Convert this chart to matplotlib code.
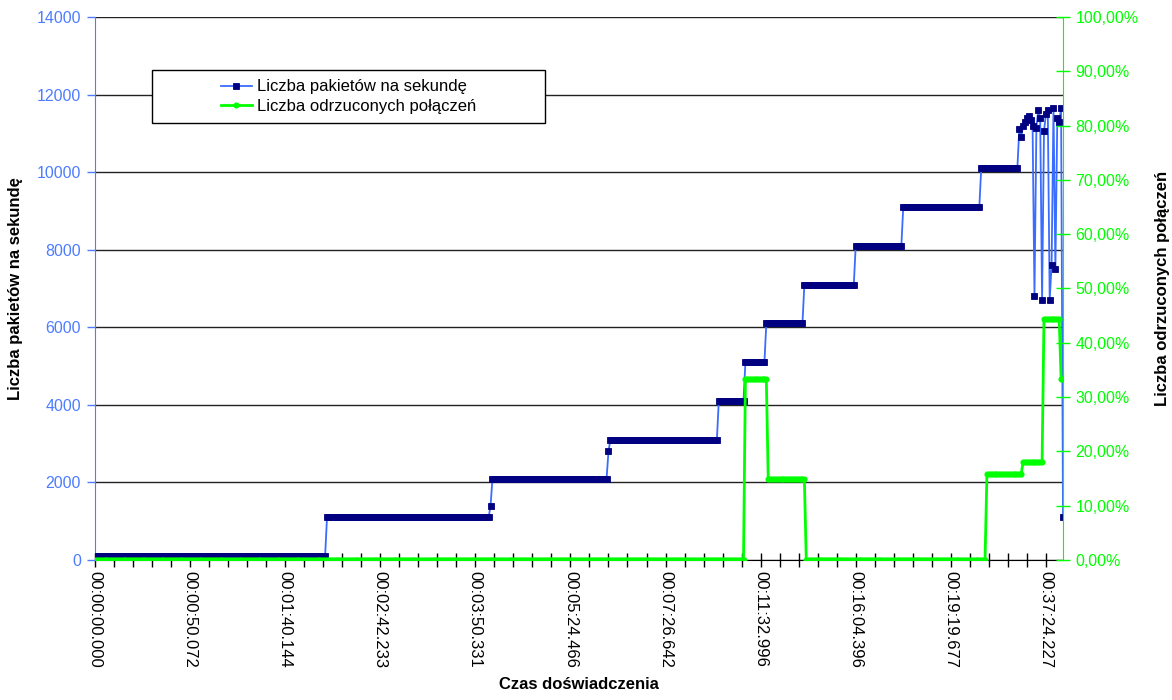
import matplotlib
matplotlib.use("Agg")
import matplotlib.pyplot as plt
from matplotlib.patches import Rectangle
from matplotlib.ticker import MultipleLocator, FuncFormatter
import numpy as np

plt.rcParams['font.family'] = ['Liberation Sans', 'DejaVu Sans']

# packets per second, stored as (level, number of samples) runs
pps_levels = [0, 100, 1100, 1400, 2100, 2800, 3100, 4100, 5100, 6100, 7100, 8100, 9100, 10100]
pps_counts = [1, 121, 86, 1, 61, 1, 57, 14, 11, 20, 27, 25, 41, 20]
# last samples, where the rate jumps around
pps_tail = [11100, 10900, 11200, 11300, 11400, 11450, 11350, 11200, 6800, 11150,
            11600, 11400, 6700, 11050, 11500, 11600, 6700, 7600, 11650, 7500,
            11400, 11300, 11650, 1100]

# share of rejected connections, same run format
drop_levels = [0.0, 0.3333, 0.15, 0.0, 0.158, 0.18, 0.444, 0.3333]
drop_counts = [342, 12, 20, 95, 19, 11, 9, 2]

time_labels = ["00:00:00.000", "00:00:50.072", "00:01:40.144", "00:02:42.233",
               "00:03:50.331", "00:05:24.466", "00:07:26.642", "00:11:32.996",
               "00:16:04.396", "00:19:19.677", "00:37:24.227"]
label_step = 50

pps = np.concatenate([np.repeat(pps_levels, pps_counts), pps_tail])
drops = np.repeat(drop_levels, drop_counts)
x = np.arange(len(pps))

W, H = 1172, 700
fig = plt.figure(figsize=(W / 100, H / 100), dpi=100)
ax = fig.add_axes([95 / W, 1 - 560 / H, (1063 - 95) / W, (560 - 17) / H])
ax2 = ax.twinx()

blue_line = "#3a6cff"
blue_tick = "#4d7cff"
navy = "#000080"
lime = "#00ff00"

l1, = ax.plot(x, pps, color=blue_line, lw=1.3, marker="s", ms=4.2,
              mfc=navy, mec=navy, mew=0.6, label="Liczba pakietów na sekundę", zorder=3)
l2, = ax2.plot(x, drops, color=lime, lw=2.0, marker="o", ms=3.4,
               mfc=lime, mec=lime, label="Liczba odrzuconych połączeń", zorder=3)

ax.set_xlim(0, len(x) - 1)
ax.set_ylim(0, 14000)
ax2.set_ylim(0, 1)

# left axis
ax.yaxis.set_major_locator(MultipleLocator(2000))
ax.yaxis.grid(True, color="#222222", lw=1.0)
ax.set_axisbelow(True)
ax.tick_params(axis="y", colors=blue_tick, labelsize=11.5, length=6, width=1, direction="out", pad=4)
ax.spines["left"].set_color(blue_tick)
ax.spines["top"].set_visible(False)
ax.spines["right"].set_visible(False)
ax.spines["bottom"].set_color("black")

# category axis
ax.set_xticks(np.arange(0, len(x), label_step))
ax.set_xticklabels(time_labels, rotation=270, fontsize=12)
ax.xaxis.set_minor_locator(MultipleLocator(10))
ax.tick_params(axis="x", which="both", direction="inout", length=10, width=1, color="black", pad=3)

# right axis
ax2.yaxis.set_major_locator(MultipleLocator(0.1))
ax2.yaxis.set_major_formatter(FuncFormatter(lambda v, p: ("%.2f%%" % (v * 100)).replace(".", ",")))
ax2.tick_params(axis="y", colors=lime, labelsize=11.5, length=10, width=1, direction="inout", pad=4)
ax2.spines["right"].set_color(lime)
for s in ["left", "top", "bottom"]:
    ax2.spines[s].set_visible(False)

ax.set_xlabel("Czas doświadczenia", fontsize=12, fontweight="bold", labelpad=6)
ax.set_ylabel("Liczba pakietów na sekundę", fontsize=12, fontweight="bold", labelpad=10)
ax2.set_ylabel("Liczba odrzuconych połączeń", fontsize=12, fontweight="bold", labelpad=12)

# legend box
fig.patches.append(Rectangle((152 / W, 1 - 123 / H), (545 - 152) / W, (123 - 70) / H,
                             transform=fig.transFigure, fill=True, facecolor="white",
                             edgecolor="black", lw=1, zorder=5))
leg = fig.legend(handles=[l1, l2], loc="center", bbox_to_anchor=(348.5 / W, 1 - 96.5 / H),
                 frameon=False, fontsize=12, handlelength=1.9, handletextpad=0.3,
                 labelspacing=0.25, borderpad=0)
leg.set_zorder(6)

fig.savefig("out.png", dpi=100)
